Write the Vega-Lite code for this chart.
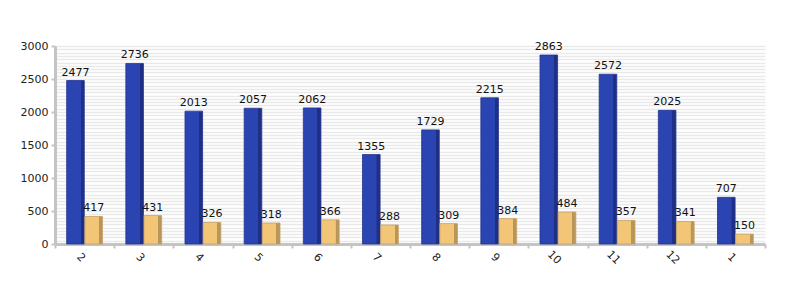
{
  "$schema": "https://vega.github.io/schema/vega-lite/v6.json",
  "autosize": "none",
  "width": 710,
  "height": 198,
  "padding": {"left": 55, "top": 46, "right": 35, "bottom": 56},
  "background": "white",
  "config": {
    "view": {"stroke": null},
    "font": "DejaVu Sans",
    "axis": {"labelFont": "DejaVu Sans", "labelFontSize": 11, "labelColor": "#222222"}
  },
  "data": {
    "values": [
      {"month": "2", "series": "A", "value": 2477}, {"month": "2", "series": "B", "value": 417},
      {"month": "3", "series": "A", "value": 2736}, {"month": "3", "series": "B", "value": 431},
      {"month": "4", "series": "A", "value": 2013}, {"month": "4", "series": "B", "value": 326},
      {"month": "5", "series": "A", "value": 2057}, {"month": "5", "series": "B", "value": 318},
      {"month": "6", "series": "A", "value": 2062}, {"month": "6", "series": "B", "value": 366},
      {"month": "7", "series": "A", "value": 1355}, {"month": "7", "series": "B", "value": 288},
      {"month": "8", "series": "A", "value": 1729}, {"month": "8", "series": "B", "value": 309},
      {"month": "9", "series": "A", "value": 2215}, {"month": "9", "series": "B", "value": 384},
      {"month": "10", "series": "A", "value": 2863}, {"month": "10", "series": "B", "value": 484},
      {"month": "11", "series": "A", "value": 2572}, {"month": "11", "series": "B", "value": 357},
      {"month": "12", "series": "A", "value": 2025}, {"month": "12", "series": "B", "value": 341},
      {"month": "1", "series": "A", "value": 707}, {"month": "1", "series": "B", "value": 150}
    ]
  },
  "encoding": {
    "x": {
      "field": "month", "type": "nominal", "sort": null,
      "scale": {"paddingInner": 0, "paddingOuter": 0},
      "axis": {"title": null, "labelAngle": 45, "labelAlign": "center", "labelBaseline": "top", "tickBand": "extent", "domainColor": "#c4c4c4", "domainWidth": 3, "tickColor": "#c4c4c4", "tickWidth": 2, "tickSize": 4, "labelPadding": 5}
    },
    "xOffset": {"field": "series", "type": "nominal", "scale": {"paddingInner": 0.033, "paddingOuter": 0.64}},
    "y": {"field": "value", "type": "quantitative", "scale": {"domain": [0, 3000], "nice": false}, "axis": null}
  },
  "layer": [
    {
      "mark": {"type": "bar", "color": "#333", "opacity": 0},
      "encoding": {
        "y": {"field": "value", "type": "quantitative", "scale": {"domain": [0, 3000], "nice": false},
          "axis": {"title": null, "orient": "left", "labels": false, "ticks": false, "domain": false, "tickCount": 60, "grid": true, "gridColor": "#e9e9e9", "gridWidth": 1.6}}
      }
    },
    {
      "mark": {"type": "bar", "color": "#333", "opacity": 0},
      "encoding": {
        "y": {"field": "value", "type": "quantitative", "scale": {"domain": [0, 3000], "nice": false},
          "axis": {"title": null, "orient": "left", "format": "d", "values": [0, 500, 1000, 1500, 2000, 2500, 3000], "grid": false, "domainColor": "#c4c4c4", "domainWidth": 3, "tickColor": "#c4c4c4", "tickWidth": 2, "tickSize": 4, "labelPadding": 3}}
      }
    },
    {
      "mark": {"type": "bar", "strokeWidth": 0.8},
      "encoding": {
        "fill": {
          "condition": {
            "test": "datum.series === 'A'",
            "value": {"gradient": "linear", "x1": 0, "x2": 1, "y1": 0, "y2": 0, "stops": [
              {"offset": 0, "color": "#2a45b2"}, {"offset": 0.79, "color": "#2a45b2"},
              {"offset": 0.8, "color": "#1f2f86"}, {"offset": 1, "color": "#1f2f86"}]}
          },
          "value": {"gradient": "linear", "x1": 0, "x2": 1, "y1": 0, "y2": 0, "stops": [
            {"offset": 0, "color": "#f3c677"}, {"offset": 0.79, "color": "#f3c677"},
            {"offset": 0.8, "color": "#b8965a"}, {"offset": 1, "color": "#b8965a"}]}
        },
        "stroke": {"condition": {"test": "datum.series === 'A'", "value": "#23348f"}, "value": "#c4a064"}
      }
    },
    {
      "mark": {"type": "text", "baseline": "bottom", "dy": -3, "fontSize": 11, "color": "#111111"},
      "encoding": {"text": {"field": "value", "type": "quantitative"}}
    }
  ],
  "resolve": {"axis": {"y": "independent"}}
}
